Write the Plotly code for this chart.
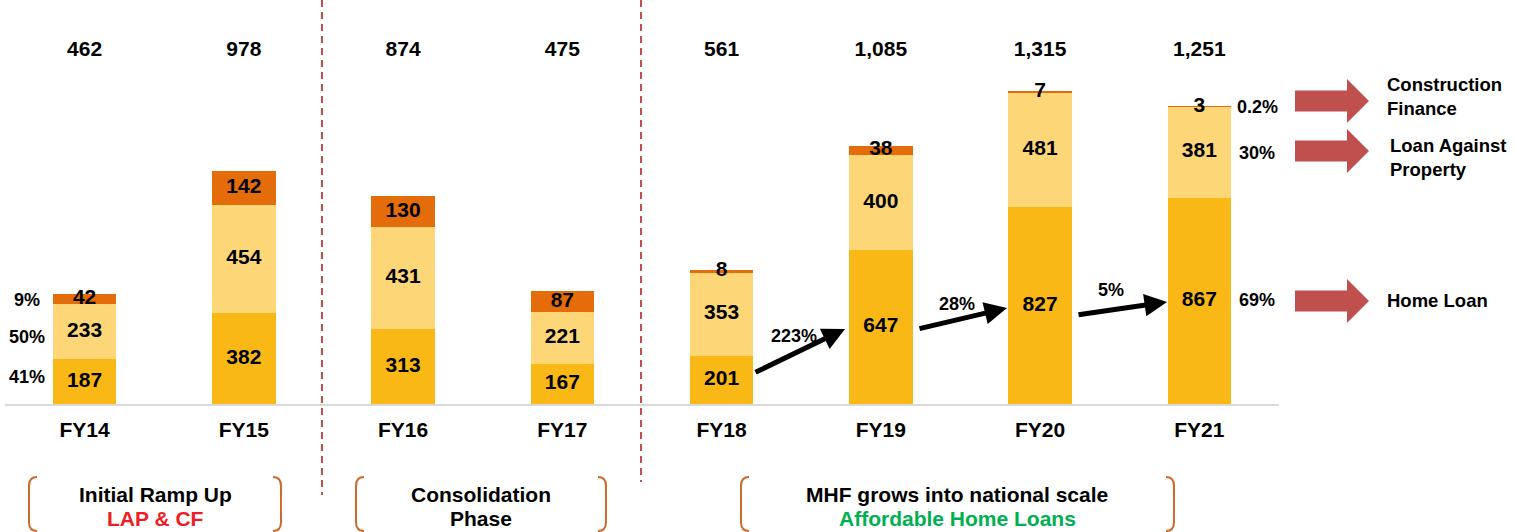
import plotly.graph_objects as go

W, H = 1515, 532

# ---------------- data ----------------
categories = ["FY14", "FY15", "FY16", "FY17", "FY18", "FY19", "FY20", "FY21"]
home_loan = [187, 382, 313, 167, 201, 647, 827, 867]
lap = [233, 454, 431, 221, 353, 400, 481, 381]
cf = [42, 142, 130, 87, 8, 38, 7, 3]
totals = [462, 978, 874, 475, 561, 1085, 1315, 1251]
fy14_share = ["41%", "50%", "9%"]      # Home Loan, LAP, CF
fy21_share = ["69%", "30%", "0.2%"]    # Home Loan, LAP, CF
hl_growth = ["223%", "28%", "5%"]      # FY18->19, FY19->20, FY20->21
segment_names = ["Home Loan", "Loan Against<br>Property", "Construction<br>Finance"]
phase_titles = ["Initial Ramp Up", "Consolidation", "MHF grows into national scale"]
phase_subtitles = ["LAP & CF", "Phase", "Affordable Home Loans"]

# ---------------- style ----------------
C_HL = "#FAB817"
C_LAP = "#FDD678"
C_CF = "#E46C0A"
C_RED = "#C0504D"
C_BRACKET = "#D0692A"
FONT = "Liberation Sans, Arial, sans-serif"

# plot area geometry (pixels)
X0, X1 = 5, 1279
Y_TOP, Y_BASE = 0, 404
YMAX = 1697.0
PX_PER_UNIT = (Y_BASE - Y_TOP) / YMAX
SPACING = (X1 - X0) / 8.0


def px(x):
    return x / W


def py(y):
    return 1 - y / H


def dx(xp):  # pixel x -> data x
    return (xp - X0) / SPACING - 0.5


def dy(yp):  # pixel y -> data y
    return (Y_BASE - yp) / PX_PER_UNIT


xs = list(range(len(categories)))

fig = go.Figure()
for vals, col, name in [(home_loan, C_HL, "Home Loan"), (lap, C_LAP, "LAP"), (cf, C_CF, "CF")]:
    fig.add_trace(go.Bar(x=xs, y=vals, marker=dict(color=col, line=dict(width=0)),
                         width=0.4, name=name, hoverinfo="skip"))

# segment labels
seg_x, seg_y, seg_t = [], [], []
for i in xs:
    base = 0
    for v in (home_loan[i], lap[i], cf[i]):
        seg_x.append(i)
        seg_y.append(base + v / 2)
        seg_t.append(str(v))
        base += v
fig.add_trace(go.Scatter(x=seg_x, y=seg_y, text=seg_t, mode="text", cliponaxis=False,
                         textfont=dict(family=FONT, size=21, color="black", weight="bold"),
                         hoverinfo="skip"))

# totals on top
fig.add_trace(go.Scatter(x=xs, y=[dy(51)] * len(xs), text=[f"{t:,}" for t in totals],
                         mode="text", cliponaxis=False,
                         textfont=dict(family=FONT, size=21, color="black", weight="bold"),
                         hoverinfo="skip"))

annotations = []
bold18 = dict(family=FONT, size=18, color="black", weight="bold")

# FY14 share labels (left of bar)
for yp, s in zip((377, 337, 300), fy14_share):
    annotations.append(dict(x=px(27), y=py(yp), xref="paper", yref="paper", text=s,
                            showarrow=False, font=bold18, xanchor="center", yanchor="middle"))

# FY21 share labels (right of bar)
for yp, s in zip((300, 153, 107), fy21_share):
    annotations.append(dict(x=px(1257), y=py(yp), xref="paper", yref="paper", text=s,
                            showarrow=False, font=bold18, xanchor="center", yanchor="middle"))

# growth arrows between home loan segments
arrows = [((754, 373), (845, 329), (794, 336)),
          ((918, 329), (1007, 308), (957, 304)),
          ((1077, 315), (1167, 302), (1111, 290))]
for (tail, tip, lab), g in zip(arrows, hl_growth):
    annotations.append(dict(x=dx(tip[0]), y=dy(tip[1]), ax=dx(tail[0]), ay=dy(tail[1]),
                            xref="x", yref="y", axref="x", ayref="y", text="",
                            showarrow=True, arrowhead=2, arrowsize=0.9, arrowwidth=5,
                            arrowcolor="black"))
    annotations.append(dict(x=dx(lab[0]), y=dy(lab[1]), xref="x", yref="y", text=g,
                            showarrow=False, font=bold18, xanchor="center", yanchor="middle"))

# right-side legend labels
for name, xp, yp in zip(segment_names, (1385, 1388, 1385), (300, 157, 96)):
    annotations.append(dict(x=px(xp), y=py(yp), xref="paper", yref="paper", text=name,
                            showarrow=False, xanchor="left", yanchor="middle", align="left",
                            font=dict(family=FONT, size=18.5, color="black", weight="bold")))

# phase boxes text
box_centers = [155, 481, 957]
sub_colors = ["#EE1C25", "black", "#00B050"]
for cx, t, s, sc in zip(box_centers, phase_titles, phase_subtitles, sub_colors):
    annotations.append(dict(x=px(cx), y=py(494), xref="paper", yref="paper", text=t,
                            showarrow=False, xanchor="center", yanchor="middle",
                            font=dict(family=FONT, size=21, color="black", weight="bold")))
    annotations.append(dict(x=px(cx), y=py(518), xref="paper", yref="paper", text=s,
                            showarrow=False, xanchor="center", yanchor="middle",
                            font=dict(family=FONT, size=21, color=sc, weight="bold")))

shapes = []
# dashed dividers
for xp, ybot in ((322, 495), (641, 482)):
    shapes.append(dict(type="line", xref="paper", yref="paper", x0=px(xp), x1=px(xp),
                       y0=py(0), y1=py(ybot), line=dict(color=C_RED, width=2, dash="7px,5px")))

# right block arrows
for yc in (101, 151, 301):
    x_a, x_b, x_c = 1295, 1347, 1369
    pts = [(x_a, yc - 10.5), (x_b, yc - 10.5), (x_b, yc - 22), (x_c, yc),
           (x_b, yc + 22), (x_b, yc + 10.5), (x_a, yc + 10.5)]
    path = "M " + " L ".join(f"{px(a):.5f},{py(c):.5f}" for a, c in pts) + " Z"
    shapes.append(dict(type="path", xref="paper", yref="paper", path=path,
                       fillcolor=C_RED, line=dict(width=0)))

# phase brackets
for xl, xr in ((29, 281), (356, 606), (741, 1174)):
    y0, y1 = 477, 531
    left = (f"M {px(xl+8):.5f},{py(y0):.5f} Q {px(xl):.5f},{py(y0):.5f} {px(xl):.5f},{py(y0+9):.5f} "
            f"L {px(xl):.5f},{py(y1-9):.5f} Q {px(xl):.5f},{py(y1):.5f} {px(xl+8):.5f},{py(y1):.5f}")
    right = (f"M {px(xr-8):.5f},{py(y0):.5f} Q {px(xr):.5f},{py(y0):.5f} {px(xr):.5f},{py(y0+9):.5f} "
             f"L {px(xr):.5f},{py(y1-9):.5f} Q {px(xr):.5f},{py(y1):.5f} {px(xr-8):.5f},{py(y1):.5f}")
    for p in (left, right):
        shapes.append(dict(type="path", xref="paper", yref="paper", path=p,
                           line=dict(color=C_BRACKET, width=2)))

fig.update_layout(
    width=W, height=H, barmode="stack", showlegend=False,
    margin=dict(l=0, r=0, t=0, b=0),
    paper_bgcolor="white", plot_bgcolor="white",
    xaxis=dict(domain=[X0 / W, X1 / W], range=[-0.5, 7.5], tickvals=xs, ticktext=categories,
               showgrid=False, zeroline=False, showline=True, linecolor="#D9D9D9", linewidth=2,
               ticks="", ticklabelstandoff=6,
               tickfont=dict(family=FONT, size=21, color="black", weight="bold")),
    yaxis=dict(domain=[1 - Y_BASE / H, 1 - Y_TOP / H], range=[0, YMAX], visible=False),
    annotations=annotations, shapes=shapes,
)

fig.write_html("out.html", config={"displayModeBar": False},
               post_script="document.body.style.margin='0';document.body.style.overflow='hidden';")
